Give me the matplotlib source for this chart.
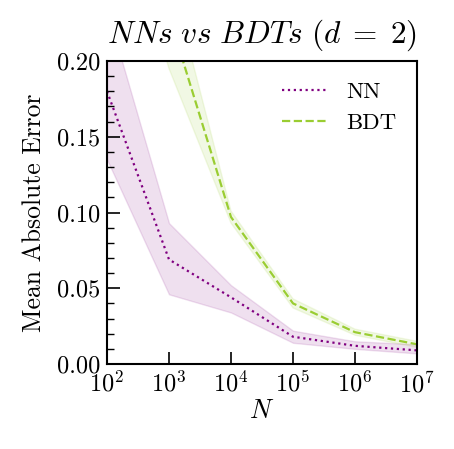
import matplotlib
matplotlib.use("Agg")
import matplotlib.pyplot as plt
from matplotlib.ticker import MultipleLocator, LogLocator, NullLocator

plt.rcParams["font.family"] = "serif"
plt.rcParams["font.serif"] = ["cmr10"]
plt.rcParams["mathtext.fontset"] = "cm"
plt.rcParams["axes.formatter.use_mathtext"] = True

# Training set sizes
n_values = [1e2, 1e3, 1e4, 1e5, 1e6, 1e7]

# Neural network errors
nn_mean = [0.180, 0.069, 0.044, 0.018, 0.012, 0.009]
nn_low = [0.135, 0.046, 0.034, 0.014, 0.010, 0.007]
nn_high = [0.234, 0.093, 0.052, 0.022, 0.015, 0.013]

# Boosted decision tree errors
bdt_mean = [0.380, 0.230, 0.097, 0.040, 0.021, 0.013]
bdt_low = [0.330, 0.195, 0.093, 0.037, 0.019, 0.011]
bdt_high = [0.430, 0.260, 0.101, 0.043, 0.023, 0.015]

NN_COLOR = "#800080"
BDT_COLOR = "#9acd32"

fig = plt.figure(figsize=(4.54, 4.49), dpi=100)
ax = fig.add_axes([0.2357, 0.1893, 0.6828, 0.6748])

ax.plot(n_values, nn_mean, ls=":", lw=1.6, color=NN_COLOR, label="NN")
ax.fill_between(n_values, nn_low, nn_high, color=NN_COLOR, alpha=0.12, lw=1)
ax.plot(n_values, bdt_mean, ls="--", lw=1.6, color=BDT_COLOR, label="BDT")
ax.fill_between(n_values, bdt_low, bdt_high, color=BDT_COLOR, alpha=0.13, lw=1)

ax.set_xscale("log")
ax.set_xlim(1e2, 1e7)
ax.set_ylim(0, 0.2)
ax.xaxis.set_major_locator(LogLocator(base=10, numticks=10))
ax.xaxis.set_minor_locator(NullLocator())
ax.yaxis.set_major_locator(MultipleLocator(0.05))
ax.yaxis.set_minor_locator(MultipleLocator(0.01))
ax.yaxis.set_major_formatter(matplotlib.ticker.FormatStrFormatter("%.2f"))

ax.tick_params(which="major", direction="in", length=9, width=1.2, labelsize=17.5, pad=5)
ax.tick_params(which="minor", direction="in", length=5, width=1.0)
for s in ax.spines.values():
    s.set_linewidth(1.5)

ax.set_xlabel("$N$", fontsize=19, labelpad=2)
ax.set_ylabel("Mean Absolute Error", fontsize=18.5, labelpad=8)
ax.set_title(r"$NNs\ vs\ BDTs\ (d\;=\;2)$", fontsize=22.5, pad=13)
ax.legend(loc="upper right", frameon=False, fontsize=16.5, handlelength=2.0,
          borderaxespad=0.5)

fig.savefig("out.png", dpi=100)
